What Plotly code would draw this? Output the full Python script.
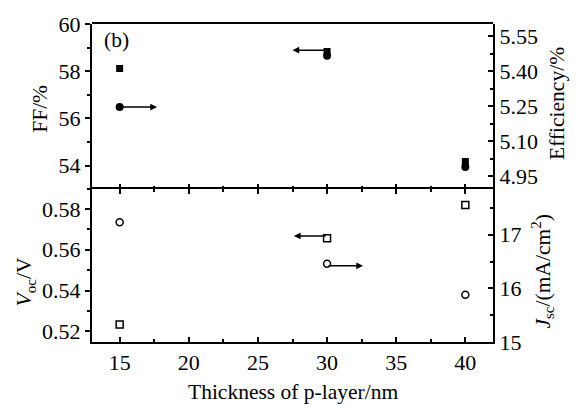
import plotly.graph_objects as go

# p-layer thickness (nm) and measured cell parameters
thickness = [15, 30, 40]
ff = [58.12, 58.84, 54.18]          # fill factor, %
efficiency = [5.247, 5.467, 4.99]   # conversion efficiency, %
voc = [0.5234, 0.5656, 0.582]       # open-circuit voltage, V
jsc = [17.23, 16.46, 15.88]         # short-circuit current density, mA/cm2

eff_ticks = [4.95, 5.10, 5.25, 5.40, 5.55]

FONT = "Liberation Serif"
BLACK = "#000000"
SPLIT = 0.4825  # boundary between lower and upper panel (paper units)

fig = go.Figure()

fig.add_trace(go.Scatter(x=thickness, y=ff, mode="markers", xaxis="x", yaxis="y",
                         marker=dict(symbol="square", size=7, color=BLACK), showlegend=False))
fig.add_trace(go.Scatter(x=thickness, y=efficiency, mode="markers", xaxis="x", yaxis="y2",
                         marker=dict(symbol="circle", size=8, color=BLACK), showlegend=False))
fig.add_trace(go.Scatter(x=thickness, y=voc, mode="markers", xaxis="x2", yaxis="y3",
                         marker=dict(symbol="square-open", size=7, color=BLACK,
                                     line=dict(width=1.5, color=BLACK)), showlegend=False))
fig.add_trace(go.Scatter(x=thickness, y=jsc, mode="markers", xaxis="x2", yaxis="y4",
                         marker=dict(symbol="circle-open", size=7, color=BLACK,
                                     line=dict(width=1.5, color=BLACK)), showlegend=False))

tickfont = dict(family=FONT, size=22, color=BLACK)
common = dict(showgrid=False, zeroline=False, linecolor=BLACK, linewidth=2,
              tickcolor=BLACK, tickwidth=1.5, ticklen=5, tickfont=tickfont)
minor_style = dict(ticklen=3, tickcolor=BLACK, tickwidth=1.5)

fig.update_layout(
    width=577, height=405,
    paper_bgcolor="white", plot_bgcolor="white",
    margin=dict(l=92, r=84, t=19, b=63),
    font=dict(family=FONT, color=BLACK),
    # upper panel: ticks only, the shared boundary line comes from the lower panel
    xaxis=dict(domain=[0, 1], anchor="y", range=[13, 42], dtick=5, ticks="inside",
               showticklabels=False, showline=False,
               minor=dict(dtick=2.5, ticks="inside", **minor_style),
               **common),
    xaxis2=dict(domain=[0, 1], anchor="y3", matches="x", range=[13, 42], dtick=5,
                ticks="inside", showline=True, mirror="ticks",
                minor=dict(dtick=2.5, ticks="inside", **minor_style),
                **common),
    yaxis=dict(domain=[SPLIT, 1], anchor="x", range=[53.03, 60.001], tick0=54, dtick=2,
               ticks="outside", showline=True,
               minor=dict(dtick=1, ticks="outside", **minor_style),
               **common),
    yaxis2=dict(overlaying="y", side="right", anchor="x", range=[4.898, 5.603],
                tickvals=eff_ticks, tickformat=".2f", ticks="inside", showline=True,
                minor=dict(tick0=4.95, dtick=0.075, ticks="inside", **minor_style),
                **common),
    yaxis3=dict(domain=[0, SPLIT], anchor="x2", range=[0.5148, 0.59], tick0=0.52, dtick=0.02,
                tickformat=".2f", ticks="outside", showline=True,
                minor=dict(tick0=0.52, dtick=0.01, ticks="outside", **minor_style),
                **common),
    yaxis4=dict(overlaying="y3", side="right", anchor="x2", range=[14.999, 17.86], dtick=1,
                ticks="inside", showline=True,
                minor=dict(dtick=0.5, ticks="inside", **minor_style),
                **common),
    # top border of the upper panel
    shapes=[dict(type="line", xref="paper", yref="paper", x0=0, x1=1, y0=1.003, y1=1.003,
                 line=dict(color=BLACK, width=2))],
)

title_font = dict(family=FONT, size=21.5, color=BLACK)
labels = [
    dict(text="FF/%", x=-0.13, y=0.733, textangle=-90),
    dict(text="Efficiency/%", x=1.16, y=0.749, textangle=-90),
    dict(text="<i>V</i><sub>oc</sub>/V", x=-0.165, y=0.19, textangle=-90),
    dict(text="<i>J</i><sub>sc</sub>/(mA/cm<sup>2</sup>)", x=1.125, y=0.222, textangle=-90),
    dict(text="Thickness of p-layer/nm", x=0.5, y=-0.156, textangle=0),
    dict(text="(b)", x=0.062, y=0.95, textangle=0),
]
for lab in labels:
    fig.add_annotation(xref="paper", yref="paper", showarrow=False, font=title_font,
                       xanchor="center", yanchor="middle", **lab)

# Arrows pointing to the axis each series belongs to
arrows = [
    dict(x=17.7, y=efficiency[0], ax=thickness[0], ay=efficiency[0], xref="x", yref="y2", axref="x", ayref="y2"),
    dict(x=27.5, y=ff[1] + 0.05, ax=thickness[1], ay=ff[1] + 0.05, xref="x", yref="y", axref="x", ayref="y"),
    dict(x=27.6, y=voc[1] + 0.0012, ax=thickness[1], ay=voc[1] + 0.0012, xref="x2", yref="y3", axref="x2", ayref="y3"),
    dict(x=32.6, y=jsc[1] - 0.04, ax=thickness[1], ay=jsc[1] - 0.04, xref="x2", yref="y4", axref="x2", ayref="y4"),
]
for a in arrows:
    fig.add_annotation(text="", showarrow=True, arrowhead=2, arrowsize=0.9, arrowwidth=1.5,
                       arrowcolor=BLACK, standoff=0, startstandoff=0, **a)

fig.write_html("out.html")
